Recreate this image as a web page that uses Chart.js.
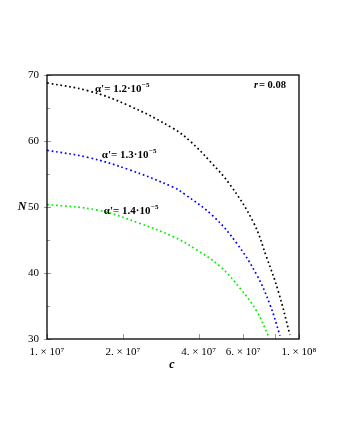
<!DOCTYPE html>
<html lang="en">
<head>
    <meta charset="UTF-8" />
    <title>N vs c</title>
    <script src="https://cdn.jsdelivr.net/npm/chart.js"></script>
    <style>
        html, body { margin: 0; padding: 0; background: #fff; }
        #wrap { width: 340px; height: 440px; }
    </style>
</head>
<body>
<div id="wrap"><canvas id="nChart" width="340" height="440"></canvas></div>

<script>
    // curve samples (c, N)
    const c12 = [1.0e7, 1.46e7, 2.10e7, 3.17e7, 3.69e7, 4.44e7, 5.32e7, 6.59e7, 7.45e7, 8.28e7, 9.21e7];
    const n12 = [68.8, 67.6, 65.4, 61.9, 60.0, 56.9, 53.4, 47.7, 42.3, 37.2, 30.6];

    const c13 = [1.0e7, 1.46e7, 2.10e7, 3.17e7, 3.53e7, 4.57e7, 5.66e7, 6.80e7, 7.67e7, 8.41e7];
    const n13 = [58.6, 57.5, 55.7, 53.0, 51.9, 48.6, 44.5, 39.7, 35.2, 30.5];

    const c14 = [1.0e7, 1.60e7, 2.30e7, 3.17e7, 3.93e7, 4.86e7, 5.83e7, 6.80e7, 7.55e7];
    const n14 = [50.4, 49.5, 47.6, 45.5, 43.5, 41.0, 37.7, 34.2, 30.5];

    const xTicks = [1e7, 2e7, 4e7, 6e7, 8e7, 1e8];
    const xTickLabels = ["1. × 10⁷", "2. × 10⁷", "4. × 10⁷", "6. × 10⁷", "", "1. × 10⁸"];
    const yTicks = [30, 40, 50, 60, 70];
    const yMinor = [35, 45, 55, 65];

    const curveLabels = [
        { text: "α'= 1.2·10", exp: "−5", c: 1.55e7, n: 67.5 },
        { text: "α'= 1.3·10", exp: "−5", c: 1.65e7, n: 57.35 },
        { text: "α'= 1.4·10", exp: "−5", c: 1.68e7, n: 49.0 }
    ];

    const serif = "'Liberation Serif', 'DejaVu Serif', serif";

    function pts(cs, ns) {
        return cs.map((c, i) => ({ x: c, y: ns[i] }));
    }

    function dotted(data, color) {
        return {
            data: data,
            borderColor: color,
            borderWidth: 1.7,
            borderDash: [1.7, 2.8],
            pointRadius: 0,
            fill: false,
            tension: 0.4
        };
    }

    const decorations = {
        id: "decorations",
        afterDatasetsDraw(chart) {
            const ctx = chart.ctx;
            const a = chart.chartArea;
            const xs = chart.scales.x;
            const ys = chart.scales.y;
            ctx.save();

            // inward ticks
            ctx.strokeStyle = "#999";
            ctx.lineWidth = 1;
            xTicks.forEach(v => {
                const px = Math.round(xs.getPixelForValue(v)) + 0.5;
                ctx.beginPath();
                ctx.moveTo(px, a.bottom);
                ctx.lineTo(px, a.bottom - 5);
                ctx.stroke();
            });
            yTicks.forEach(v => {
                const py = Math.round(ys.getPixelForValue(v)) + 0.5;
                ctx.beginPath();
                ctx.moveTo(a.left - 3, py);
                ctx.lineTo(a.left + 4, py);
                ctx.stroke();
            });
            yMinor.forEach(v => {
                const py = Math.round(ys.getPixelForValue(v)) + 0.5;
                ctx.beginPath();
                ctx.moveTo(a.left, py);
                ctx.lineTo(a.left + 3, py);
                ctx.stroke();
            });

            // frame
            ctx.strokeStyle = "#000";
            ctx.lineWidth = 1.3;
            ctx.strokeRect(a.left, a.top, a.right - a.left, a.bottom - a.top);

            // curve labels
            ctx.fillStyle = "#000";
            ctx.textBaseline = "alphabetic";
            curveLabels.forEach(l => {
                const px = xs.getPixelForValue(l.c);
                const py = ys.getPixelForValue(l.n);
                ctx.font = "bold 11px " + serif;
                ctx.fillText(l.text, px, py);
                const w = ctx.measureText(l.text).width;
                ctx.font = "bold 7px " + serif;
                ctx.fillText(l.exp, px + w + 0.5, py - 5);
            });

            // r = 0.08
            ctx.font = "italic bold 10.5px " + serif;
            ctx.fillText("r", a.right - 45, a.top + 13);
            ctx.font = "bold 10.5px " + serif;
            ctx.fillText("= 0.08", a.right - 40, a.top + 13);

            // axis names
            ctx.font = "italic bold 12px " + serif;
            ctx.textAlign = "center";
            ctx.textBaseline = "middle";
            ctx.fillText("N", 22, ys.getPixelForValue(50));
            ctx.fillText("c", 172, 365);
            ctx.restore();
        }
    };

    new Chart(document.getElementById("nChart"), {
        type: "line",
        data: {
            datasets: [
                dotted(pts(c12, n12), "#000000"),
                dotted(pts(c13, n13), "#0000ff"),
                dotted(pts(c14, n14), "#00ee00")
            ]
        },
        options: {
            responsive: false,
            animation: false,
            layout: { padding: { top: 75, right: 41, left: 0, bottom: 0 } },
            plugins: { legend: { display: false }, tooltip: { enabled: false } },
            scales: {
                x: {
                    type: "logarithmic",
                    min: 1e7,
                    max: 1e8,
                    border: { display: false },
                    grid: { display: false, drawTicks: false },
                    afterBuildTicks: s => { s.ticks = xTicks.map(v => ({ value: v })); },
                    afterFit: s => { s.height = 101; },
                    ticks: {
                        autoSkip: false,
                        maxRotation: 0,
                        padding: 7,
                        color: "#000",
                        font: { family: serif, size: 11 },
                        callback: (v, i) => xTickLabels[i]
                    }
                },
                y: {
                    min: 30,
                    max: 70,
                    border: { display: false },
                    grid: { display: false, drawTicks: false },
                    afterBuildTicks: s => { s.ticks = yTicks.map(v => ({ value: v })); },
                    afterFit: s => { s.width = 47; },
                    ticks: {
                        padding: 8,
                        color: "#000",
                        font: { family: serif, size: 11 }
                    }
                }
            }
        },
        plugins: [decorations]
    });
</script>
</body>
</html>
